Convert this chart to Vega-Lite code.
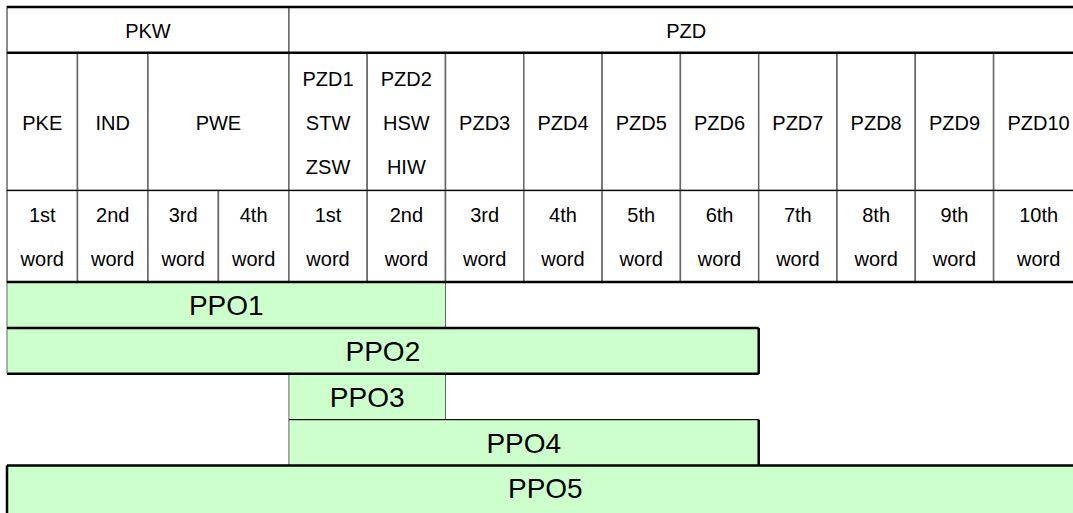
{
  "$schema": "https://vega.github.io/schema/vega-lite/v6.json",
  "width": 1073,
  "height": 513,
  "autosize": "none",
  "padding": 0,
  "background": "white",
  "config": {"view": {"stroke": null}, "font": "Liberation Sans"},
  "datasets": {
    "cells": [
      {"label": "PKW", "x0": 0, "x1": 3.6, "y0": 0, "y1": 1},
      {"label": "PZD", "x0": 3.6, "x1": 13.75, "y0": 0, "y1": 1},
      {"label": "PKE", "x0": 0, "x1": 0.9, "y0": 1, "y1": 4},
      {"label": "IND", "x0": 0.9, "x1": 1.8, "y0": 1, "y1": 4},
      {"label": "PWE", "x0": 1.8, "x1": 3.6, "y0": 1, "y1": 4},
      {"label": "PZD1|STW|ZSW", "x0": 3.6, "x1": 4.6, "y0": 1, "y1": 4},
      {"label": "PZD2|HSW|HIW", "x0": 4.6, "x1": 5.6, "y0": 1, "y1": 4},
      {"label": "PZD3", "x0": 5.6, "x1": 6.6, "y0": 1, "y1": 4},
      {"label": "PZD4", "x0": 6.6, "x1": 7.6, "y0": 1, "y1": 4},
      {"label": "PZD5", "x0": 7.6, "x1": 8.6, "y0": 1, "y1": 4},
      {"label": "PZD6", "x0": 8.6, "x1": 9.6, "y0": 1, "y1": 4},
      {"label": "PZD7", "x0": 9.6, "x1": 10.6, "y0": 1, "y1": 4},
      {"label": "PZD8", "x0": 10.6, "x1": 11.6, "y0": 1, "y1": 4},
      {"label": "PZD9", "x0": 11.6, "x1": 12.6, "y0": 1, "y1": 4},
      {"label": "PZD10", "x0": 12.6, "x1": 13.75, "y0": 1, "y1": 4},
      {"label": "1st|word", "x0": 0, "x1": 0.9, "y0": 4, "y1": 6},
      {"label": "2nd|word", "x0": 0.9, "x1": 1.8, "y0": 4, "y1": 6},
      {"label": "3rd|word", "x0": 1.8, "x1": 2.7, "y0": 4, "y1": 6},
      {"label": "4th|word", "x0": 2.7, "x1": 3.6, "y0": 4, "y1": 6},
      {"label": "1st|word", "x0": 3.6, "x1": 4.6, "y0": 4, "y1": 6},
      {"label": "2nd|word", "x0": 4.6, "x1": 5.6, "y0": 4, "y1": 6},
      {"label": "3rd|word", "x0": 5.6, "x1": 6.6, "y0": 4, "y1": 6},
      {"label": "4th|word", "x0": 6.6, "x1": 7.6, "y0": 4, "y1": 6},
      {"label": "5th|word", "x0": 7.6, "x1": 8.6, "y0": 4, "y1": 6},
      {"label": "6th|word", "x0": 8.6, "x1": 9.6, "y0": 4, "y1": 6},
      {"label": "7th|word", "x0": 9.6, "x1": 10.6, "y0": 4, "y1": 6},
      {"label": "8th|word", "x0": 10.6, "x1": 11.6, "y0": 4, "y1": 6},
      {"label": "9th|word", "x0": 11.6, "x1": 12.6, "y0": 4, "y1": 6},
      {"label": "10th|word", "x0": 12.6, "x1": 13.75, "y0": 4, "y1": 6}
    ],
    "ppo": [
      {"label": "PPO1", "x0": 0, "x1": 5.6, "y0": 6, "y1": 7},
      {"label": "PPO2", "x0": 0, "x1": 9.6, "y0": 7, "y1": 8},
      {"label": "PPO3", "x0": 3.6, "x1": 5.6, "y0": 8, "y1": 9},
      {"label": "PPO4", "x0": 3.6, "x1": 9.6, "y0": 9, "y1": 10},
      {"label": "PPO5", "x0": 0, "x1": 13.75, "y0": 10, "y1": 11.3}
    ],
    "thick": [
      {"x0": 0, "x1": 13.75, "y0": 0, "y1": 0},
      {"x0": 0, "x1": 13.75, "y0": 1, "y1": 1},
      {"x0": 0, "x1": 13.75, "y0": 6, "y1": 6},
      {"x0": 0, "x1": 9.6, "y0": 7, "y1": 7},
      {"x0": 0, "x1": 9.6, "y0": 8, "y1": 8},
      {"x0": 9.6, "x1": 9.6, "y0": 7, "y1": 8},
      {"x0": 9.6, "x1": 9.6, "y0": 9, "y1": 10},
      {"x0": 0, "x1": 13.75, "y0": 10, "y1": 10},
      {"x0": 0, "x1": 0, "y0": 10, "y1": 11.3}
    ],
    "thin": [
      {"x0": 0, "x1": 13.75, "y0": 4, "y1": 4},
      {"x0": 3.6, "x1": 9.6, "y0": 9, "y1": 9}
    ]
  },
  "layer": [
    {
      "data": {"name": "cells"},
      "mark": {"type": "rect", "fill": "white", "stroke": "#666666", "strokeWidth": 1.5},
      "encoding": {
        "x": {"field": "x0", "type": "quantitative", "scale": {"domain": [-0.0894, 13.614], "nice": false, "zero": false}, "axis": null},
        "x2": {"field": "x1"},
        "y": {"field": "y0", "type": "quantitative", "scale": {"domain": [-0.153, 11.036], "nice": false, "zero": false, "reverse": true}, "axis": null},
        "y2": {"field": "y1"}
      }
    },
    {
      "data": {"name": "ppo"},
      "mark": {"type": "rect", "fill": "#ccffcc", "stroke": "#666666", "strokeWidth": 1},
      "encoding": {
        "x": {"field": "x0", "type": "quantitative"},
        "x2": {"field": "x1"},
        "y": {"field": "y0", "type": "quantitative"},
        "y2": {"field": "y1"}
      }
    },
    {
      "data": {"name": "thin"},
      "mark": {"type": "rule", "color": "black", "strokeWidth": 1},
      "encoding": {
        "x": {"field": "x0", "type": "quantitative"},
        "x2": {"field": "x1"},
        "y": {"field": "y0", "type": "quantitative"},
        "y2": {"field": "y1"}
      }
    },
    {
      "data": {"name": "thick"},
      "mark": {"type": "rule", "color": "black", "strokeWidth": 2.5},
      "encoding": {
        "x": {"field": "x0", "type": "quantitative"},
        "x2": {"field": "x1"},
        "y": {"field": "y0", "type": "quantitative"},
        "y2": {"field": "y1"}
      }
    },
    {
      "data": {"name": "cells"},
      "transform": [
        {"calculate": "(datum.x0 + datum.x1) / 2", "as": "xm"},
        {"calculate": "(datum.y0 + datum.y1) / 2 - (length(split(datum.label, '|')) - 1) * 0.48", "as": "ym"}
      ],
      "mark": {"type": "text", "fontSize": 20, "lineBreak": "|", "lineHeight": 44, "color": "black", "baseline": "middle", "dy": 2},
      "encoding": {
        "x": {"field": "xm", "type": "quantitative"},
        "y": {"field": "ym", "type": "quantitative"},
        "text": {"field": "label"}
      }
    },
    {
      "data": {"name": "ppo"},
      "transform": [
        {"calculate": "(datum.x0 + datum.x1) / 2", "as": "xm"},
        {"calculate": "datum.y0 + 0.5", "as": "ym"}
      ],
      "mark": {"type": "text", "fontSize": 28, "color": "black", "baseline": "middle", "dy": 2},
      "encoding": {
        "x": {"field": "xm", "type": "quantitative"},
        "y": {"field": "ym", "type": "quantitative"},
        "text": {"field": "label"}
      }
    }
  ]
}
